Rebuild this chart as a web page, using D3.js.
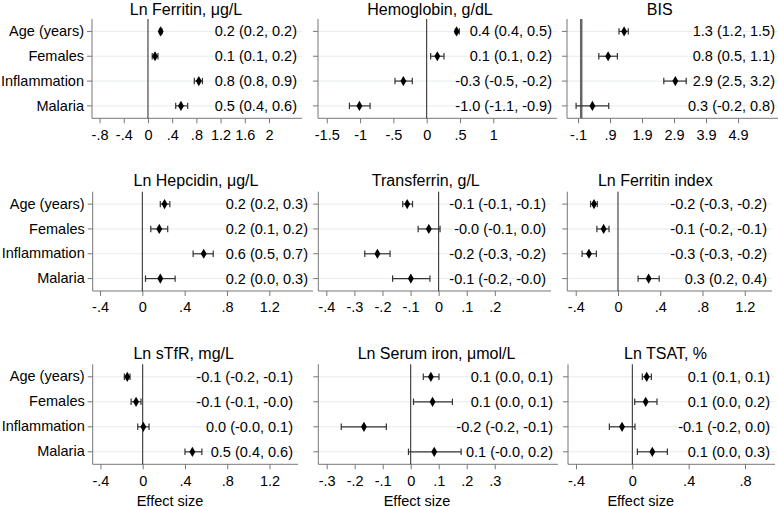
<!DOCTYPE html>
<html><head><meta charset="utf-8">
<script src="https://cdn.jsdelivr.net/npm/d3@7"></script>
<style>body{margin:0;background:#fff} svg{display:block} text{font-family:"Liberation Sans",Arial,sans-serif;fill:#000}</style>
</head><body><svg id="c" width="778" height="507"></svg>
<script>
// ---------------- data ----------------
const categories = ["Age (years)", "Females", "Inflammation", "Malaria"];
const panelTitles = ["Ln Ferritin, μg/L", "Hemoglobin, g/dL", "BIS",
  "Ln Hepcidin, μg/L", "Transferrin, g/L", "Ln Ferritin index",
  "Ln sTfR, mg/L", "Ln Serum iron, μmol/L", "Ln TSAT, %"];
const estimates = [
  [0.21, 0.116, 0.84, 0.545],
  [0.45, 0.16, -0.35, -1.01],
  [1.34, 0.84, 2.94, 0.35],
  [0.21, 0.16, 0.58, 0.17],
  [-0.112, -0.035, -0.218, -0.099],
  [-0.227, -0.136, -0.275, 0.29],
  [-0.146, -0.063, 0.006, 0.47],
  [0.072, 0.078, -0.167, 0.084],
  [0.102, 0.095, -0.073, 0.142]];
const lowerCI = [
  [0.19, 0.07, 0.765, 0.458],
  [0.43, 0.06, -0.476, -1.16],
  [1.18, 0.55, 2.58, -0.16],
  [0.17, 0.08, 0.48, 0.03],
  [-0.128, -0.073, -0.263, -0.164],
  [-0.26, -0.2, -0.34, 0.19],
  [-0.174, -0.11, -0.047, 0.40],
  [0.045, 0.01, -0.248, -0.008],
  [0.071, 0.017, -0.163, 0.036]];
const upperCI = [
  [0.23, 0.165, 0.90, 0.656],
  [0.49, 0.26, -0.216, -0.85],
  [1.47, 1.13, 3.28, 0.86],
  [0.26, 0.24, 0.67, 0.31],
  [-0.093, 0.005, -0.173, -0.031],
  [-0.196, -0.085, -0.205, 0.39],
  [-0.12, -0.016, 0.06, 0.56],
  [0.101, 0.149, -0.087, 0.18],
  [0.135, 0.175, 0.019, 0.249]];
const ciLabels = [
  ["0.2 (0.2, 0.2)", "0.1 (0.1, 0.2)", "0.8 (0.8, 0.9)", "0.5 (0.4, 0.6)"],
  ["0.4 (0.4, 0.5)", "0.1 (0.1, 0.2)", "-0.3 (-0.5, -0.2)", "-1.0 (-1.1, -0.9)"],
  ["1.3 (1.2, 1.5)", "0.8 (0.5, 1.1)", "2.9 (2.5, 3.2)", "0.3 (-0.2, 0.8)"],
  ["0.2 (0.2, 0.3)", "0.2 (0.1, 0.2)", "0.6 (0.5, 0.7)", "0.2 (0.0, 0.3)"],
  ["-0.1 (-0.1, -0.1)", "-0.0 (-0.1, 0.0)", "-0.2 (-0.3, -0.2)", "-0.1 (-0.2, -0.0)"],
  ["-0.2 (-0.3, -0.2)", "-0.1 (-0.2, -0.1)", "-0.3 (-0.3, -0.2)", "0.3 (0.2, 0.4)"],
  ["-0.1 (-0.2, -0.1)", "-0.1 (-0.1, -0.0)", "0.0 (-0.0, 0.1)", "0.5 (0.4, 0.6)"],
  ["0.1 (0.0, 0.1)", "0.1 (0.0, 0.1)", "-0.2 (-0.2, -0.1)", "0.1 (-0.0, 0.2)"],
  ["0.1 (0.1, 0.1)", "0.1 (0.0, 0.2)", "-0.1 (-0.2, 0.0)", "0.1 (0.0, 0.3)"]];
const tickValues = [
  [-0.8, -0.4, 0, 0.4, 0.8, 1.2, 1.6, 2],
  [-1.5, -1, -0.5, 0, 0.5, 1],
  [-0.1, 0.9, 1.9, 2.9, 3.9, 4.9],
  [-0.4, 0, 0.4, 0.8, 1.2],
  [-0.4, -0.3, -0.2, -0.1, 0, 0.1, 0.2],
  [-0.4, 0, 0.4, 0.8, 1.2],
  [-0.4, 0, 0.4, 0.8, 1.2],
  [-0.3, -0.2, -0.1, 0, 0.1, 0.2, 0.3],
  [-0.4, 0, 0.4, 0.8]];
const tickLabels = [
  ["-.8", "-.4", "0", ".4", ".8", "1.2", "1.6", "2"],
  ["-1.5", "-1", "-.5", "0", ".5", "1"],
  ["-.1", ".9", "1.9", "2.9", "3.9", "4.9"],
  ["-.4", "0", ".4", ".8", "1.2"],
  ["-.4", "-.3", "-.2", "-.1", "0", ".1", ".2"],
  ["-.4", "0", ".4", ".8", "1.2"],
  ["-.4", "0", ".4", ".8", "1.2"],
  ["-.3", "-.2", "-.1", "0", ".1", ".2", ".3"],
  ["-.4", "0", ".4", ".8"]];
const xDomains = [
  [-0.925, 2.545], [-1.632, 1.957], [-0.444, 6.21],
  [-0.469, 1.613], [-0.4285, 0.40], [-0.48, 1.458],
  [-0.4735, 1.47], [-0.33, 0.526], [-0.4567, 1.013]];
const xAxisTitle = "Effect size";

// ---------------- layout ----------------
const plotLeft = [[92, 318, 567], [92.7, 318.3, 567.3], [92.7, 318.3, 568]];
const plotRight = [[302, 557, 780], [313, 551, 772], [298, 558, 775]];
const rowTop = [19, 191.7, 364.3];
const rowBottom = [118.3, 291, 464.3];
const titleBase = [14.6, 186, 358.5];
const titleCx = [[186, 430, 659.7], [196, 425.8, 655.3], [183.7, 436.5, 665.5]];
const xtitleCx = [170, 417, 640.7];

const svg = d3.select("#c");
const AXIS = "#777", GRID = "#e6ecec";

for (let p = 0; p < 9; p++) {
  const r = Math.floor(p / 3), c = p % 3;
  const x = d3.scaleLinear().domain(xDomains[p]).range([plotLeft[r][c], plotRight[r][c]]);
  const y = d3.scaleBand().domain(categories).range([rowTop[r], rowBottom[r]]);
  const yc = d => y(d) + y.bandwidth() / 2;
  const g = svg.append("g");

  // gridlines
  g.selectAll(".grid").data(categories).join("line")
    .attr("x1", x.range()[0]).attr("x2", x.range()[1])
    .attr("y1", yc).attr("y2", yc)
    .attr("stroke", GRID).attr("stroke-width", 1);

  // y axis
  const yAxis = d3.axisLeft(y).tickSize(5).tickPadding(3).tickFormat(c === 0 ? (d => d) : () => "");
  const ya = g.append("g").attr("transform", `translate(${x.range()[0]},0)`).call(yAxis);
  ya.select(".domain").attr("d", `M0,${rowTop[r]}V${rowBottom[r]}`).attr("stroke", AXIS);
  ya.selectAll(".tick line").attr("stroke", AXIS);
  ya.selectAll(".tick text").attr("font-size", 14.5).attr("fill", "#000")
    .style("font-family", '"Liberation Sans",Arial,sans-serif');

  // x axis
  const xAxis = d3.axisBottom(x).tickValues(tickValues[p]).tickSize(5).tickPadding(6)
    .tickFormat((d, i) => tickLabels[p][i]);
  const xa = g.append("g").attr("transform", `translate(0,${rowBottom[r]})`).call(xAxis);
  xa.select(".domain").attr("d", `M${x.range()[0]},0H${x.range()[1]}`).attr("stroke", AXIS);
  xa.selectAll(".tick line").attr("stroke", AXIS);
  xa.selectAll(".tick text").attr("font-size", 14.5).attr("fill", "#000")
    .style("font-family", '"Liberation Sans",Arial,sans-serif');

  // zero reference line
  g.append("line").attr("x1", x(0)).attr("x2", x(0))
    .attr("y1", rowTop[r]).attr("y2", rowBottom[r])
    .attr("stroke", p === 2 ? "#666" : "#222").attr("stroke-width", p === 2 ? 2.5 : 1);

  // CI whiskers
  const rows = categories.map((cat, i) => ({cat, est: estimates[p][i], lo: lowerCI[p][i], hi: upperCI[p][i], lab: ciLabels[p][i]}));
  g.selectAll(".ci").data(rows).join("line")
    .attr("x1", d => x(d.lo)).attr("x2", d => x(d.hi))
    .attr("y1", d => yc(d.cat)).attr("y2", d => yc(d.cat))
    .attr("stroke", "#333").attr("stroke-width", 1.2);
  ["lo", "hi"].forEach(k => {
    g.selectAll(".cap" + k).data(rows).join("line")
      .attr("x1", d => x(d[k])).attr("x2", d => x(d[k]))
      .attr("y1", d => yc(d.cat) - 3.2).attr("y2", d => yc(d.cat) + 3.2)
      .attr("stroke", "#333").attr("stroke-width", 1.2);
  });
  // diamonds
  const diamond = d3.symbol().type(d3.symbolDiamond).size(30);
  g.selectAll(".pt").data(rows).join("path")
    .attr("d", diamond)
    .attr("transform", d => `translate(${x(d.est)},${yc(d.cat)})`)
    .attr("fill", "#000");

  // labels
  g.selectAll(".lab").data(rows).join("text")
    .attr("x", x.range()[1] - 5).attr("y", d => yc(d.cat)).attr("dy", "0.35em")
    .attr("text-anchor", "end").attr("font-size", 14.5).text(d => d.lab);

  // title
  svg.append("text").attr("x", titleCx[r][c]).attr("y", titleBase[r])
    .attr("text-anchor", "middle").attr("font-size", 16).text(panelTitles[p]);

  if (r === 2) {
    svg.append("text").attr("x", xtitleCx[c]).attr("y", 505.5)
      .attr("text-anchor", "middle").attr("font-size", 14.5).text(xAxisTitle);
  }
}
</script></body></html>
